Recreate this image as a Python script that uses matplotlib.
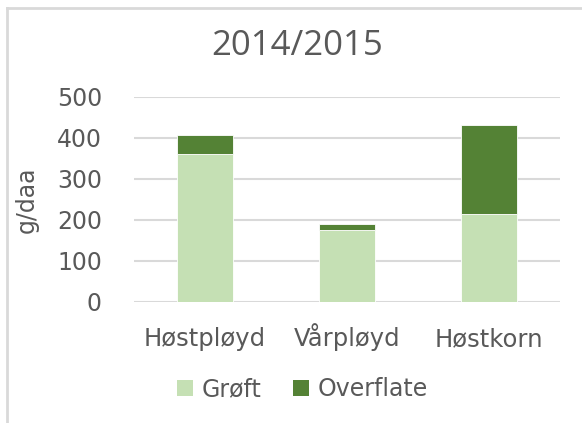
import matplotlib
matplotlib.use("Agg")
import matplotlib.pyplot as plt
from matplotlib.lines import Line2D
from matplotlib.patches import Patch

categories = ["Høstpløyd", "Vårpløyd", "Høstkorn"]
groft = [360, 174, 213]
overflate = [47, 16, 219]
series_names = ["Grøft", "Overflate"]
title = "2014/2015"
ylabel = "g/daa"
yticks = [0, 100, 200, 300, 400, 500]

plt.rcParams['font.family'] = ['DejaVu Sans']
TXT = '#595959'
C1 = '#C5E0B4'
C2 = '#548235'

W, H = 582, 423
fig = plt.figure(figsize=(W/100, H/100), dpi=100)
AX_L, AX_R, AX_B, AX_T = 134, 560, 301.7, 96.8
ax = fig.add_axes([AX_L/W, 1-AX_B/H, (AX_R-AX_L)/W, (AX_B-AX_T)/H])

x = list(range(len(categories)))
ax.bar(x, groft, width=0.4, color=C1, edgecolor='white', linewidth=0.6, zorder=3)
ax.bar(x, overflate, width=0.4, bottom=groft, color=C2, edgecolor='white', linewidth=0.6, zorder=3)

ax.set_xlim(-0.5, 2.5)
ax.set_ylim(0, 500)
ax.set_yticks(yticks)
ax.set_yticklabels([str(v) for v in yticks])
ax.set_xticks(x)
ax.set_xticklabels(categories)
ax.yaxis.grid(True, color='#D9D9D9', linewidth=1.5, zorder=0)
ax.set_axisbelow(True)
for s in ax.spines.values():
    s.set_visible(False)
ax.tick_params(axis='y', length=0, labelsize=17, colors=TXT, pad=(AX_L-102)*0.72)
ax.tick_params(axis='x', length=0, labelsize=17.5, colors=TXT, pad=(346-AX_B)*0.72)
for lab in ax.get_xticklabels():
    lab.set_va('baseline')

ax.set_ylabel(ylabel, fontsize=17, color=TXT)
ax.yaxis.label.set_va('center')
ax.yaxis.set_label_coords((27-AX_L)/(AX_R-AX_L), 0.5)

fig.text(297/W, 1-46/H, title, ha='center', va='center', fontsize=25, color=TXT,
         family=['Open Sans', 'DejaVu Sans'])

handles = [Patch(facecolor=C1), Patch(facecolor=C2)]
fig.legend(handles, series_names, loc='center', bbox_to_anchor=(302.5/W, 1-389/H), ncol=2,
           frameon=False, fontsize=17, labelcolor=TXT, handlelength=0.68, handleheight=0.68,
           handletextpad=0.36, columnspacing=1.35, borderpad=0, borderaxespad=0)

fig.add_artist(Line2D([7/W, 7/W], [0, 1-8/H], color='#D9D9D9', linewidth=2, transform=fig.transFigure))
fig.add_artist(Line2D([7/W, 1], [1-8/H, 1-8/H], color='#D9D9D9', linewidth=2, transform=fig.transFigure))

fig.savefig("out.png", dpi=100)
